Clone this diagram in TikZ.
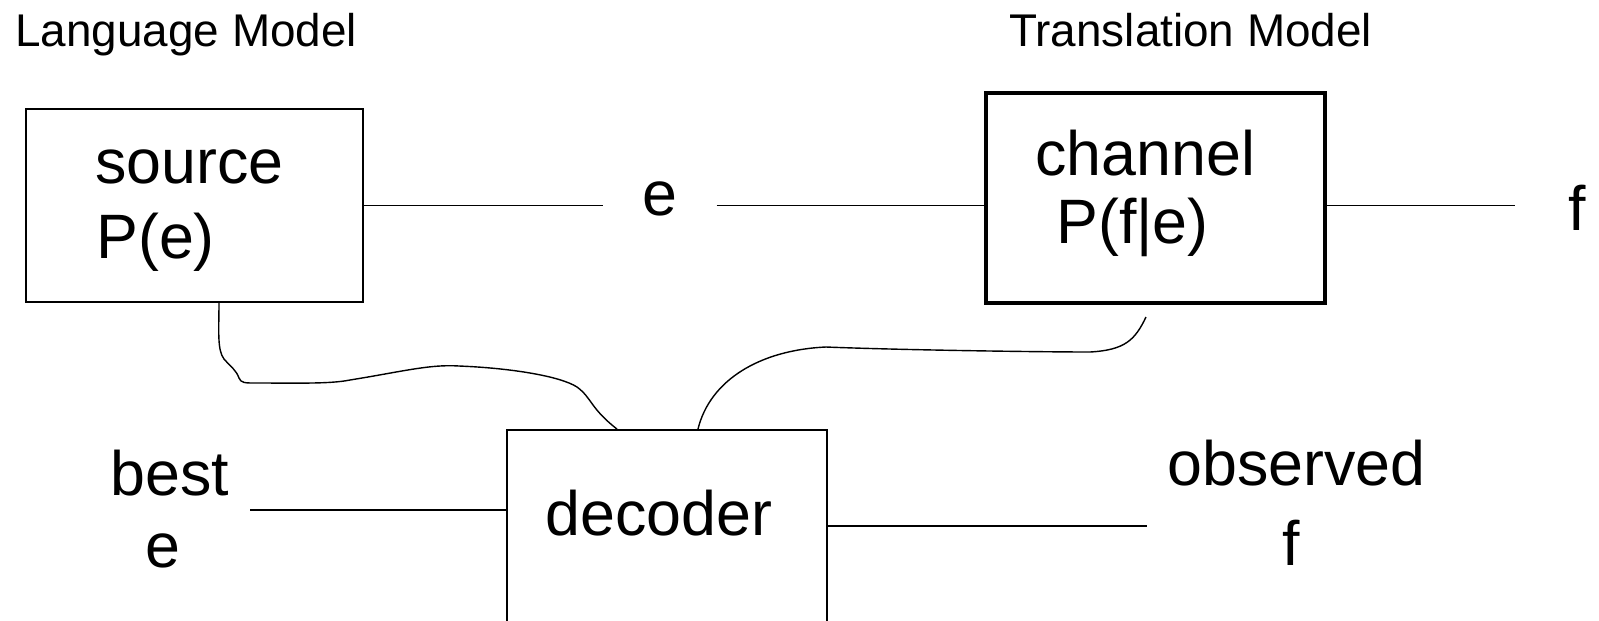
\documentclass[tikz,border=0pt]{standalone}
\usepackage{fontspec}
\setmainfont{Liberation Sans}
\usepackage{tikz}

\tikzset{
  box/.style={draw, line width=1.1pt, inner sep=0pt},
  big/.style={inner sep=0pt, font=\fontsize{35.7}{42}\selectfont},
  small/.style={inner sep=0pt, font=\fontsize{26.1}{31}\selectfont},
  wire/.style={line width=1.1pt},
  wiggle/.style={line width=0.8pt}
}

\begin{document}
\begin{tikzpicture}[x=0.02cm, y=-0.02cm]
\useasboundingbox (0,0) rectangle (1599,620);

% titles
\node[small, anchor=base west] (lm) at (15,46) {Language Model};
\node[small, anchor=base west] (tm) at (1009,46) {Translation Model};

% the three boxes
\node[box, minimum width=6.74cm, minimum height=3.86cm] (src) at (194.5,205.5) {};
\node[box, line width=2.3pt, minimum width=6.78cm, minimum height=4.2cm] (chan) at (1155.5,198) {};
\node[box, minimum width=6.4cm, minimum height=5.2cm] (dec) at (667,560) {};

\node[big, anchor=base west] (srcname) at (95,183) {source};
\node[big, anchor=base west] (srcprob) at (96,258) {P(e)};
\node[big, anchor=base west] (channame) at (1035,175) {channel};
\node[big, anchor=base west] (chanprob) at (1056,243) {P(f|e)};
\node[big, anchor=base west] (decname) at (545,535) {decoder};

% labels on the wires
\node[big, anchor=base west, inner xsep=0.78cm] (e1) at (603,215) {e};
\node[big, anchor=base west, inner xsep=1.06cm] (f1) at (1515,230) {f};
\node[big, anchor=base west] (best) at (110,495) {best};
\node[big, anchor=base west] (beste) at (145,567) {e};
\node[big, anchor=base west] (obs) at (1167,485) {observed};
\node[big, anchor=base west] (obsf) at (1282,565) {f};

\coordinate (bestout) at (250,510);
\coordinate (obsin) at (1147,526);
\coordinate (chanfree) at (1146,317);

% straight wires
\draw[wire] (src.east) -- (src.east -| e1.west);
\draw[wire] (e1.east |- src.east) -- (src.east -| chan.west);
\draw[wire] (chan.east |- src.east) -- (src.east -| f1.west);
\draw[wire] (bestout) -- (bestout -| dec.west);
\draw[wire] (dec.east |- obsin) -- (obsin);

% hand drawn links into the decoder
\draw[wiggle] ([xshift=0.49cm]src.south)
  .. controls (219,330) and (217,350) .. (224,359)
  .. controls (232,368) and (236,370) .. (239,378)
  .. controls (241,383) and (245,383) .. (255,383)
  .. controls (300,383) and (330,384) .. (350,380)
  .. controls (400,372) and (430,364) .. (459,366)
  .. controls (510,368) and (560,376) .. (577,387)
  .. controls (592,398) and (590,408) .. ([xshift=-1cm]dec.north);
\draw[wiggle] ([xshift=0.62cm]dec.north)
  .. controls (710,380) and (760,350) .. (826,347)
  .. controls (900,350) and (1040,352) .. (1090,352)
  .. controls (1125,350) and (1135,340) .. (chanfree);
\end{tikzpicture}
\end{document}
